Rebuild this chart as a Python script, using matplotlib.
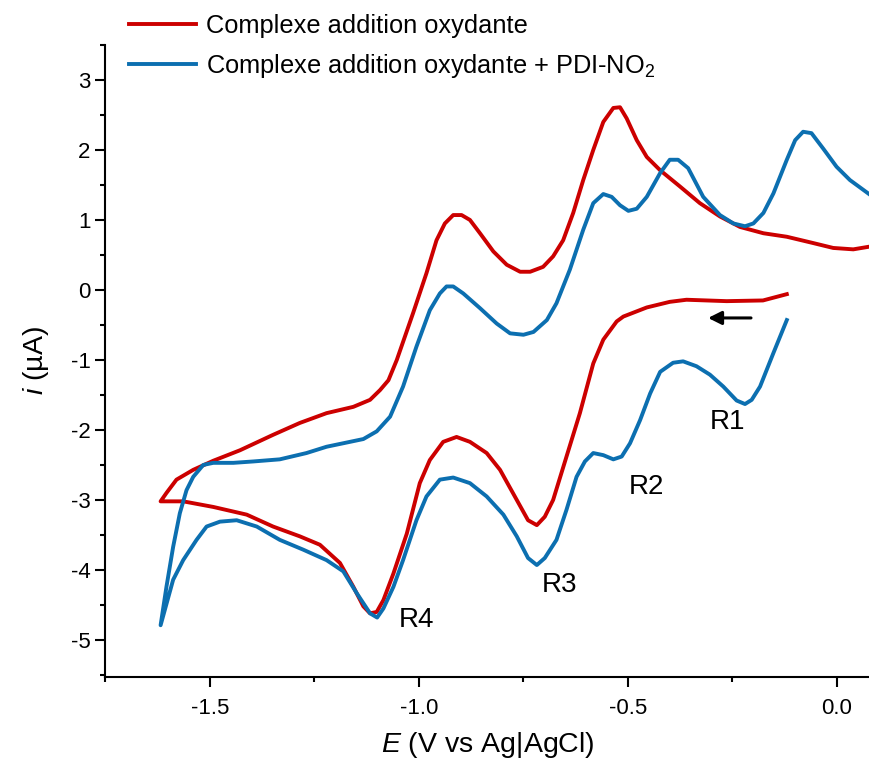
import matplotlib
matplotlib.use("Agg")
import matplotlib.pyplot as plt
from matplotlib.ticker import MultipleLocator, FormatStrFormatter

plt.rcParams['font.family'] = ['Liberation Sans', 'DejaVu Sans']
plt.rcParams['mathtext.fontset'] = 'custom'
plt.rcParams['mathtext.rm'] = 'Liberation Sans'
plt.rcParams['mathtext.it'] = 'Liberation Sans:italic'
plt.rcParams['axes.unicode_minus'] = False

# potential (V vs Ag|AgCl) and current (uA), in scan order
e_complexe = [-0.120, -0.177, -0.264, -0.360, -0.400, -0.455, -0.511, -0.527, -0.559, -0.583,
              -0.615, -0.647, -0.679, -0.699, -0.718, -0.739, -0.766, -0.806, -0.838, -0.878,
              -0.910, -0.942, -0.974, -0.998, -1.029, -1.061, -1.085, -1.101, -1.117, -1.133,
              -1.157, -1.189, -1.237, -1.285, -1.349, -1.412, -1.492, -1.564, -1.618,
              -1.604, -1.580, -1.540, -1.492, -1.428, -1.349, -1.285, -1.221, -1.157, -1.117,
              -1.093, -1.073, -1.053, -1.014, -0.982, -0.958, -0.938, -0.918, -0.898, -0.878,
              -0.854, -0.822, -0.790, -0.758, -0.734, -0.703, -0.679, -0.655, -0.631, -0.607,
              -0.583, -0.559, -0.535, -0.519, -0.503, -0.479, -0.455, -0.423, -0.376, -0.328,
              -0.280, -0.232, -0.176, -0.120, -0.057, -0.009, 0.039, 0.079]
i_complexe = [-0.06, -0.15, -0.16, -0.14, -0.17, -0.25, -0.38, -0.45, -0.71, -1.05,
              -1.76, -2.38, -3.00, -3.24, -3.36, -3.29, -3.00, -2.57, -2.33, -2.17,
              -2.10, -2.17, -2.43, -2.76, -3.48, -4.05, -4.43, -4.60, -4.62, -4.52,
              -4.24, -3.90, -3.64, -3.52, -3.38, -3.21, -3.10, -3.02, -3.02,
              -2.90, -2.71, -2.57, -2.44, -2.29, -2.07, -1.90, -1.76, -1.67, -1.57,
              -1.43, -1.29, -1.00, -0.33, 0.24, 0.71, 0.95, 1.07, 1.07, 1.00,
              0.81, 0.55, 0.36, 0.26, 0.26, 0.33, 0.48, 0.71, 1.10, 1.57,
              2.00, 2.40, 2.60, 2.61, 2.45, 2.14, 1.90, 1.71, 1.48, 1.24,
              1.05, 0.90, 0.81, 0.76, 0.67, 0.60, 0.58, 0.62]

e_pdi = [-0.120, -0.152, -0.184, -0.204, -0.220, -0.240, -0.272, -0.304, -0.336, -0.368,
         -0.392, -0.423, -0.447, -0.471, -0.495, -0.515, -0.535, -0.559, -0.583, -0.603,
         -0.623, -0.647, -0.671, -0.699, -0.718, -0.739, -0.766, -0.798, -0.838, -0.878,
         -0.918, -0.950, -0.982, -1.006, -1.038, -1.061, -1.085, -1.100, -1.117, -1.149,
         -1.181, -1.221, -1.277, -1.333, -1.388, -1.436, -1.476, -1.508, -1.532, -1.564,
         -1.588, -1.618,
         -1.604, -1.588, -1.572, -1.556, -1.540, -1.516, -1.492, -1.444, -1.396, -1.333,
         -1.269, -1.221, -1.173, -1.133, -1.101, -1.069, -1.038, -1.006, -0.974, -0.950,
         -0.934, -0.918, -0.894, -0.854, -0.814, -0.782, -0.750, -0.726, -0.694, -0.671,
         -0.639, -0.607, -0.583, -0.559, -0.539, -0.519, -0.499, -0.479, -0.455, -0.423,
         -0.400, -0.380, -0.356, -0.320, -0.280, -0.248, -0.220, -0.200, -0.176, -0.152,
         -0.120, -0.100, -0.081, -0.061, -0.033, -0.001, 0.031, 0.079]
i_pdi = [-0.43, -0.90, -1.38, -1.57, -1.63, -1.58, -1.38, -1.21, -1.09, -1.02,
         -1.04, -1.17, -1.48, -1.86, -2.19, -2.38, -2.42, -2.36, -2.33, -2.45,
         -2.67, -3.14, -3.57, -3.83, -3.93, -3.83, -3.52, -3.21, -2.95, -2.76,
         -2.68, -2.71, -2.95, -3.29, -3.86, -4.24, -4.55, -4.68, -4.62, -4.33,
         -4.02, -3.86, -3.71, -3.57, -3.38, -3.29, -3.31, -3.38, -3.57, -3.86,
         -4.14, -4.79,
         -4.24, -3.67, -3.19, -2.86, -2.67, -2.50, -2.47, -2.47, -2.45, -2.42,
         -2.33, -2.24, -2.18, -2.13, -2.02, -1.81, -1.38, -0.81, -0.29, -0.05,
         0.05, 0.05, -0.05, -0.26, -0.48, -0.62, -0.64, -0.60, -0.43, -0.19,
         0.29, 0.86, 1.24, 1.37, 1.33, 1.21, 1.13, 1.16, 1.33, 1.67,
         1.86, 1.86, 1.74, 1.33, 1.07, 0.95, 0.91, 0.95, 1.10, 1.38,
         1.86, 2.14, 2.26, 2.24, 2.02, 1.76, 1.57, 1.36]

peak_labels = ['R1', 'R2', 'R3', 'R4']
peak_e = [-0.261, -0.455, -0.663, -1.007]
peak_i = [-1.89, -2.81, -4.21, -4.71]

red = '#cc0000'
blue = '#0c6fb0'

fig = plt.figure(figsize=(8.7, 7.62), dpi=100)
ax = fig.add_axes([0.1207, 0.1115, 0.8793, 0.8295])

ax.plot(e_complexe, i_complexe, color=red, lw=2.8, label='Complexe addition oxydante')
ax.plot(e_pdi, i_pdi, color=blue, lw=2.8, label='Complexe addition oxydante + PDI-NO$_2$')

for lab, x, y in zip(peak_labels, peak_e, peak_i):
    ax.text(x, y, lab, fontsize=20, ha='center', va='center')

# scan direction
ax.annotate('', xy=(-0.315, -0.40), xytext=(-0.199, -0.40),
            arrowprops=dict(arrowstyle='-|>', color='k', lw=2.2, mutation_scale=20))

ax.set_xlim(-1.751, 0.079)
ax.set_ylim(-5.53, 3.5)

ax.xaxis.set_major_locator(MultipleLocator(0.5))
ax.xaxis.set_minor_locator(MultipleLocator(0.25))
ax.xaxis.set_major_formatter(FormatStrFormatter('%.1f'))
ax.yaxis.set_major_locator(MultipleLocator(1))
ax.yaxis.set_minor_locator(MultipleLocator(0.5))

for s in ['top', 'right']:
    ax.spines[s].set_visible(False)
for s in ['left', 'bottom']:
    ax.spines[s].set_linewidth(1.5)

ax.tick_params(which='major', length=7, width=1.5, labelsize=16, direction='out')
ax.tick_params(which='minor', length=3.5, width=1.5, direction='out')
ax.tick_params(axis='x', pad=8)

ax.set_xlabel('$E$ (V vs Ag|AgCl)', fontsize=20.5, labelpad=8)
ax.set_ylabel('$i$ (µA)', fontsize=20.5, labelpad=14)

ax.legend(loc='upper left', bbox_to_anchor=(0.14, 0.992), bbox_transform=fig.transFigure,
          frameon=False, fontsize=18.3, handlelength=2.6, handletextpad=0.4,
          labelspacing=0.55, borderpad=0.3, borderaxespad=0)

fig.savefig('out.png', dpi=100)
